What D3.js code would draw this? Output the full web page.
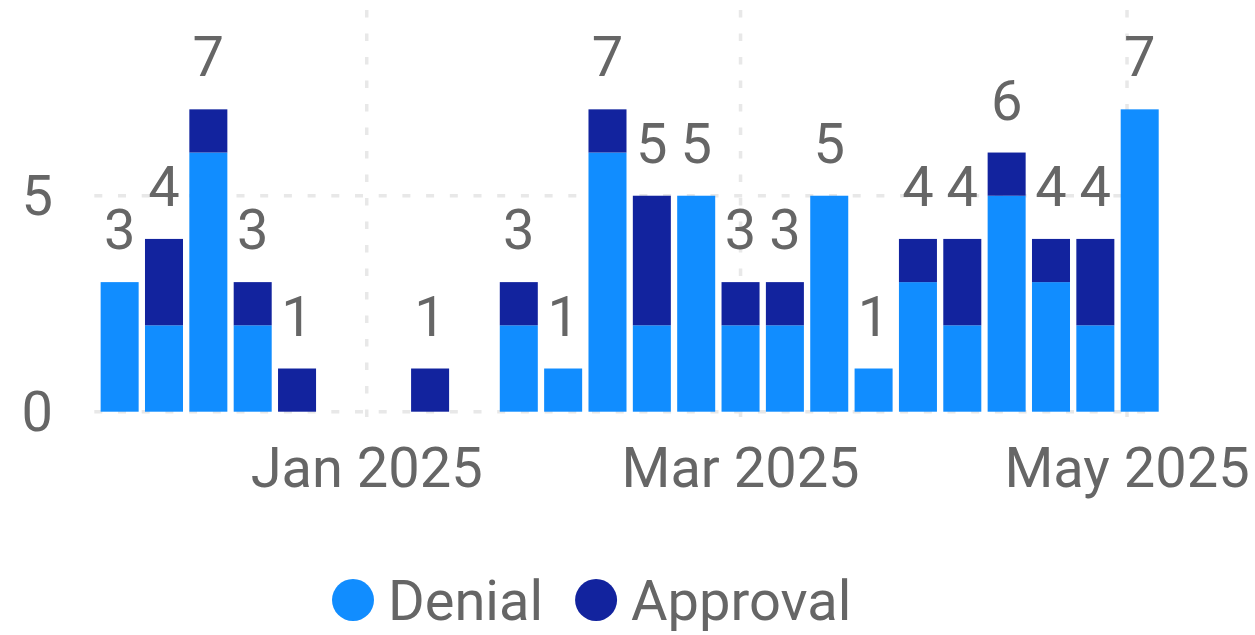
<!DOCTYPE html>
<html>
<head>
<meta charset="utf-8">
<script src="https://cdn.jsdelivr.net/npm/d3@7"></script>
<style>
  html, body { margin: 0; padding: 0; background: #ffffff; }
  svg { display: block; }
  text { font-family: "Segoe UI", Roboto, "Open Sans", sans-serif; fill: #666666; }
</style>
</head>
<body>
<svg id="chart" width="1255" height="635"></svg>
<script>
// ---- data ----
const weeks = ["2024-11-23","2024-11-30","2024-12-07","2024-12-14","2024-12-21",
  "2025-01-11","2025-01-25","2025-02-01","2025-02-08","2025-02-15","2025-02-22",
  "2025-03-01","2025-03-08","2025-03-15","2025-03-22","2025-03-29","2025-04-05",
  "2025-04-12","2025-04-19","2025-04-26","2025-05-03"];
const denial   = [3,2,6,2,0,0,2,1,6,2,5,2,2,5,1,3,2,5,3,2,7];
const approval = [0,2,1,1,1,1,1,0,1,3,0,1,1,0,0,1,2,1,1,2,0];
const seriesNames = ["Denial", "Approval"];
const seriesColors = ["#118DFF", "#12239E"];
const yTickValues = [0, 5];
const xDomain = ["2024-11-19", "2025-05-06"];

// ---- build ----
const rows = weeks.map((w, i) => ({
  date: new Date(w + "T00:00:00Z"),
  Denial: denial[i],
  Approval: approval[i]
}));

const svg = d3.select("#chart");
const x = d3.scaleUtc()
  .domain(xDomain.map(s => new Date(s + "T00:00:00Z")))
  .range([94.3, 1158.7]);
const y = d3.scaleLinear().domain([0, 9.3]).range([411.7, 10]);
const color = d3.scaleOrdinal().domain(seriesNames).range(seriesColors);

const fontSize = 56;
const grid = svg.append("g");

// horizontal gridlines
grid.selectAll("line.h").data(yTickValues).join("line")
  .attr("x1", x.range()[0]).attr("x2", x.range()[1])
  .attr("y1", d => y(d)).attr("y2", d => y(d))
  .attr("stroke", "#e8e8e8").attr("stroke-width", 3.5)
  .attr("stroke-dasharray", "8 15.7");

// vertical gridlines
const xTicks = x.ticks(d3.utcMonth.every(2));
grid.selectAll("line.v").data(xTicks).join("line")
  .attr("x1", d => x(d)).attr("x2", d => x(d))
  .attr("y1", y.range()[1]).attr("y2", y(0) + 10)
  .attr("stroke", "#e8e8e8").attr("stroke-width", 3.5)
  .attr("stroke-dasharray", "7.5 16");

// stacked bars
const stacked = d3.stack().keys(seriesNames)(rows);
const halfWeek = 3 * 24 * 3600 * 1000;
svg.append("g").selectAll("g").data(stacked).join("g")
  .attr("fill", d => color(d.key))
  .selectAll("rect").data(d => d).join("rect")
  .attr("x", d => x(new Date(d.data.date.getTime() - halfWeek)))
  .attr("width", d => x(new Date(d.data.date.getTime() + halfWeek)) - x(new Date(d.data.date.getTime() - halfWeek)))
  .attr("y", d => y(d[1]))
  .attr("height", d => y(d[0]) - y(d[1]));

// total labels
svg.append("g").selectAll("text").data(rows).join("text")
  .attr("x", d => x(d.date))
  .attr("y", d => y(d.Denial + d.Approval) - 33)
  .attr("text-anchor", "middle")
  .attr("font-size", fontSize)
  .text(d => d.Denial + d.Approval);

// y axis labels
svg.append("g").selectAll("text").data(yTickValues).join("text")
  .attr("x", 53)
  .attr("y", d => y(d) + 19)
  .attr("text-anchor", "end")
  .attr("font-size", fontSize)
  .text(d => d);

// x axis labels
const fmt = d3.utcFormat("%b %Y");
svg.append("g").selectAll("text").data(xTicks).join("text")
  .attr("x", d => x(d))
  .attr("y", 487)
  .attr("text-anchor", "middle")
  .attr("font-size", fontSize)
  .text(d => fmt(d));

// legend
const legend = svg.append("g");
let lx = 353;
seriesNames.forEach((name, i) => {
  legend.append("circle").attr("cx", lx).attr("cy", 600).attr("r", 21).attr("fill", color(name));
  const t = legend.append("text").attr("x", lx + 35).attr("y", 620)
    .attr("font-size", fontSize).text(name);
  lx = lx + 35 + t.node().getComputedTextLength() + 53;
});
</script>
</body>
</html>
